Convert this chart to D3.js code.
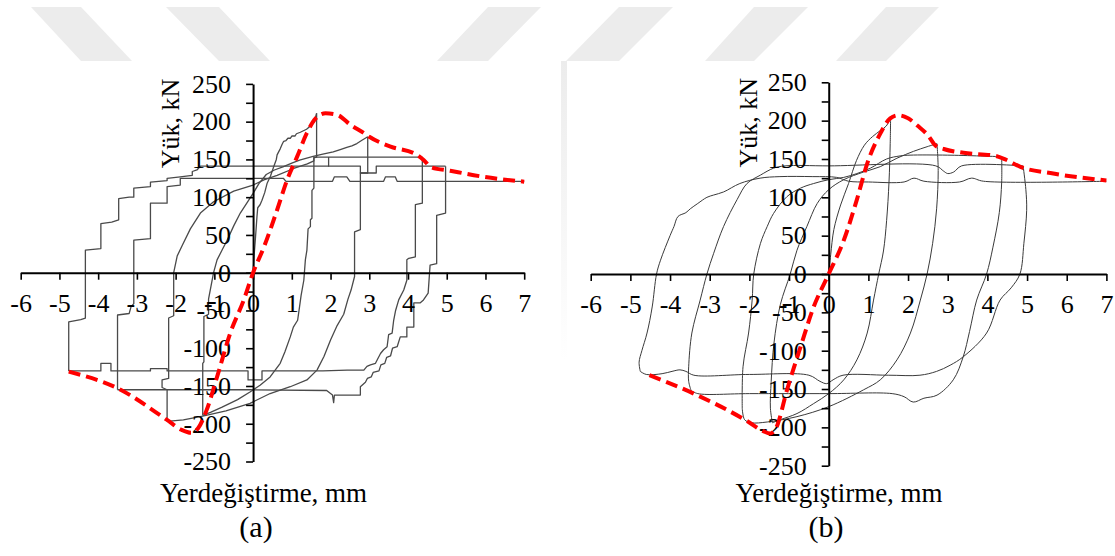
<!DOCTYPE html>
<html>
<head>
<meta charset="utf-8">
<script src="https://cdn.jsdelivr.net/npm/d3@7"></script>
<style>
  body { margin: 0; background: #fff; }
  svg { display: block; }
  text { font-family: "Liberation Serif", "Times New Roman", serif; fill: #000; }
</style>
</head>
<body>
<svg id="chart" width="1115" height="556"></svg>
<script>
// ---- axis ticks ----
const xTickValues = [-6, -5, -4, -3, -2, -1, 0, 1, 2, 3, 4, 5, 6, 7];
const yTickValues = [-250, -225, -200, -175, -150, -125, -100, -75, -50, -25, 0, 25, 50, 75, 100, 125, 150, 175, 200, 225, 250];
const yLabelStep = 50;
const xTitle = "Yerdeğiştirme, mm";
const yTitle = "Yük, kN";

// ---- (a) test loops: [displacement mm, load kN] ----
const aVirgin = [[0,0],[0.03,25],[0.06,45],[0.1,74],[0.12,86],[0.18,90],[0.23,96],[0.3,106],[0.36,118],[0.45,128],[0.53,140],[0.6,150],[0.62,156],[0.7,164],[0.75,170],[0.79,174],[0.85,175],[0.9,178],[0.96,178],[1.0,181],[1.08,181],[1.12,184],[1.22,186],[1.3,188],[1.38,190],[1.45,193],[1.52,196],[1.57,199],[1.64,211]];
const aUnload1 = [[1.64,211],[1.64,153],[1.57,152],[1.57,112],[1.52,109],[1.52,72],[1.48,70],[1.48,61],[1.42,58],[1.39,30],[1.35,17],[1.31,-10],[1.24,-30],[1.2,-45],[1.15,-63],[1.04,-72],[0.96,-85],[0.82,-105],[0.7,-120],[0.44,-138],[0.18,-149],[-0.08,-158],[-0.4,-168],[-0.8,-178],[-1.1,-185],[-1.3,-189]];
const aReload1 = [[-1.3,-189],[-1.3,-120],[-1.27,-118],[-1.27,-58],[-1.15,-55],[-1.15,-35],[-1.02,0],[-0.93,17],[-0.8,30],[-0.67,43],[-0.5,62],[-0.33,79],[-0.15,93],[0,105],[0.15,118],[0.34,130],[0.55,136],[0.77,140],[1.0,145],[1.2,149],[1.55,154],[1.8,157],[2.07,160],[2.25,163],[2.42,166],[2.55,168],[2.68,171],[2.8,175],[2.96,180]];
const aUnload2 = [[2.96,180],[2.96,132],[2.77,132],[2.77,57],[2.62,54],[2.62,-5],[2.53,-23],[2.45,-35],[2.34,-55],[2.17,-70],[2.0,-89],[1.83,-111],[1.65,-129],[1.39,-142],[0.96,-151],[0.44,-160],[-0.08,-173],[-0.7,-183],[-1.3,-190],[-1.8,-195],[-2.22,-197]];
const aReload2 = [[-2.22,-197],[-2.22,-155],[-2.35,-152],[-2.35,-142],[-2.18,-140],[-2.18,-60],[-2.05,-57],[-2.05,0],[-1.96,22],[-1.83,36],[-1.62,58],[-1.36,79],[-1.02,94],[-0.5,108],[0,116],[0.28,123],[0.62,129],[1.05,138],[1.4,144],[1.57,148],[1.57,153],[1.95,153],[1.95,141],[1.95,153],[4.37,153]];
const aUnload3 = [[4.37,153],[4.37,92],[4.19,90],[4.19,21],[4.02,19],[3.97,17],[3.97,-10],[3.89,-23],[3.76,-36],[3.68,-50],[3.63,-63],[3.59,-80],[3.5,-82],[3.46,-98],[3.37,-102],[3.29,-107],[3.2,-116],[3.16,-120],[3.03,-122],[2.94,-124],[2.86,-129],[2.43,-129],[1.8,-130],[0.23,-130],[0.23,-142],[-0.13,-142],[-0.13,-130],[-2.22,-130],[-2.22,-127],[-2.65,-127],[-2.65,-130],[-3.67,-130],[-3.67,-120],[-3.93,-120],[-3.93,-130],[-4.76,-130]];
const aReload3 = [[-4.76,-130],[-4.76,-65],[-4.45,-62],[-4.33,-60],[-4.33,30],[-3.93,32],[-3.93,65],[-3.65,67],[-3.47,70],[-3.47,98],[-3.2,100],[-3.08,100],[-3.08,112],[-2.65,114],[-2.65,120],[-2.22,122],[-2.22,125],[-1.88,127],[-1.57,129],[-1.57,134],[-1.45,136],[-1.36,141],[2.77,141],[2.77,132],[3.18,132],[3.18,141],[4.97,141]];
const aUnload4 = [[4.97,141],[4.97,79],[4.74,76],[4.74,12],[4.57,10],[4.52,-27],[4.4,-36],[4.31,-40],[4.15,-40],[4.15,-72],[3.97,-72],[3.97,-85],[3.8,-85],[3.72,-98],[3.6,-100],[3.55,-110],[3.45,-112],[3.4,-120],[3.3,-122],[3.25,-130],[3.1,-132],[3.05,-138],[2.95,-140],[2.9,-145],[2.77,-151],[2.77,-162],[2.1,-162],[2.08,-172],[2.05,-162],[1.9,-156],[-0.08,-155],[-3.5,-155]];
const aReload4 = [[-3.5,-155],[-3.5,-56],[-3.2,-54],[-3.15,-45],[-3.08,-41],[-3.08,43],[-2.65,45],[-2.65,92],[-2.22,92],[-2.22,114],[-1.88,116],[-1.88,125],[-0.1,125],[0.78,125],[0.85,121],[2.05,121],[2.1,127],[2.42,127],[2.5,121],[3.37,121],[3.42,127],[3.67,127],[3.72,121],[7,121]];
const aEnvelope = [[-4.76,-131],[-3.5,-153],[-2.22,-195],[-1.85,-208],[-1.6,-212],[-1.42,-206],[-1.2,-182],[-0.93,-138],[-0.59,-80],[-0.24,-36],[0,0],[0.28,34],[0.62,83],[0.88,123],[1.14,154],[1.39,185],[1.61,204],[1.87,211],[2.17,209],[2.51,196],[2.86,185],[3.0,180],[3.55,167],[4.23,156],[4.41,149],[4.58,140],[5.09,135],[5.95,127],[7.0,120.5]];

// ---- (b) model loops ----
const bVirgin = [[0,0],[0.05,25],[0.13,58],[0.3,90],[0.5,118],[0.7,148],[0.9,168],[1.1,179],[1.3,187],[1.45,193],[1.56,204]];
const bUnload1 = [[1.56,204],[1.55,170],[1.52,120],[1.46,70],[1.38,30],[1.26,0],[1.13,-34],[0.97,-77],[0.71,-112],[0.38,-138],[0,-156],[-0.38,-169],[-0.8,-182],[-1.22,-190],[-1.42,-194]];
const bReload1 = [[-1.42,-194],[-1.47,-175],[-1.45,-140],[-1.38,-90],[-1.22,-40],[-0.97,0],[-0.8,31],[-0.55,62],[-0.29,92],[0,110],[0.38,123],[0.88,133],[1.3,140],[1.72,151],[2.14,160],[2.48,166],[2.73,170]];
const bUnload2 = [[2.73,170],[2.76,135],[2.72,85],[2.62,40],[2.48,0],[2.31,-34],[2.06,-77],[1.72,-112],[1.3,-138],[0.88,-151],[0,-173],[-0.8,-186],[-1.55,-193],[-1.95,-194],[-2.12,-190],[-2.18,-175]];
const bReload2 = [[-2.18,-175],[-2.16,-121],[-2.02,-77],[-1.93,-34],[-1.89,0],[-1.72,40],[-1.55,62],[-1.39,79],[-1.05,101],[-0.71,112],[-0.38,118],[0,123],[0.38,126],[0.71,131],[1.05,138],[1.46,150],[1.8,154],[2.05,155],[3,155],[4.36,153]];
const bUnload3 = [[4.36,153],[4.36,120],[4.3,80],[4.14,35],[3.98,0],[3.73,-34],[3.55,-75],[3.39,-108],[3.14,-138],[2.73,-158],[2.4,-162],[2.13,-167],[1.9,-160],[1.6,-156],[0,-156],[-2,-156],[-3.3,-156],[-3.47,-152]];
const bReload3 = [[-3.47,-152],[-3.53,-140],[-3.53,-121],[-3.45,-77],[-3.24,-34],[-3.07,0],[-2.9,27],[-2.65,62],[-2.31,97],[-2.06,118],[-1.72,129],[-1.39,138],[-1.1,141],[0,141],[2.7,141],[2.9,134],[3.0,131],[3.15,133],[3.35,141],[4.9,141]];
const bUnload4 = [[4.9,141],[4.97,110],[4.99,83],[4.92,40],[4.82,0],[4.6,-18],[4.32,-34],[3.98,-77],[3.39,-108],[3.06,-119],[2.72,-127],[2.3,-132],[1.5,-132],[0.36,-132],[0.11,-138],[-0.05,-143],[-0.22,-140],[-0.5,-132],[-2,-131],[-3.4,-132],[-3.6,-127],[-3.75,-125],[-3.95,-127],[-4.2,-130],[-4.6,-131],[-4.75,-127]];
const bReload4 = [[-4.75,-127],[-4.78,-115],[-4.71,-100],[-4.58,-77],[-4.45,-43],[-4.34,0],[-4.24,18],[-4.0,50],[-3.9,62],[-3.8,75],[-3.6,80],[-3.49,85],[-3.3,92],[-3.07,100],[-2.9,103],[-2.65,107],[-2.24,118],[-1.73,125],[-1.23,127],[-0.4,127],[0.2,126],[0.5,121],[1.0,120],[1.9,120],[2.15,125],[2.4,121],[3.3,120],[3.6,125],[3.9,121],[7,121]];
const bEnvelope = [[-4.52,-132],[-3.4,-156],[-2.02,-193],[-1.65,-205],[-1.47,-208],[-1.32,-200],[-1.05,-151],[-0.71,-95],[-0.38,-43],[0,0],[0.38,44],[0.71,97],[0.97,144],[1.3,183],[1.55,203],[1.75,207],[2.0,203],[2.25,193],[2.5,181],[2.7,167],[2.9,163],[3.4,158],[4.2,154],[4.47,149],[4.82,140],[5.66,131],[7.0,122]];

const svg = d3.select("#chart");

// faint background emblem bands along the top
const bands = [
  [[31,7],[81,7],[132,61],[81,61]],
  [[166,7],[219,7],[270,61],[219,61]],
  [[488,7],[541,7],[488,61],[437,61]],
  [[619,7],[673,7],[619,61],[566,61]],
  [[754,7],[808,7],[754,61],[705,61]],
  [[886,7],[939,7],[886,61],[836,61]]
];
const defs = svg.append("defs");
const fade = defs.append("linearGradient").attr("id", "fade").attr("x1", 0).attr("y1", 0).attr("x2", 0).attr("y2", 1);
fade.append("stop").attr("offset", "0%").attr("stop-color", "#ececec");
fade.append("stop").attr("offset", "100%").attr("stop-color", "#ffffff");
svg.append("g").selectAll("polygon").data(bands).join("polygon")
  .attr("points", d => d.map(p => p.join(",")).join(" "))
  .attr("fill", "#ececec");
svg.append("rect").attr("x", 561).attr("y", 61).attr("width", 6).attr("height", 300).attr("fill", "url(#fade)");

const panels = [
  { x0: 20.7, x1: 524.2, yTop: 83.9, yBot: 461.5, loops: [aVirgin, aUnload1, aReload1, aUnload2, aReload2, aUnload3, aReload3, aUnload4, aReload4],
    envelope: aEnvelope, smooth: false, stroke: "#4a4a4a", strokeWidth: 1.3,
    yTitleX: 179, xTitleX: 263.5, tag: "(a)", tagX: 256 },
  { x0: 590.7, x1: 1106.4, yTop: 82.3, yBot: 465.7, loops: [bVirgin, bUnload1, bReload1, bUnload2, bReload2, bUnload3, bReload3, bUnload4, bReload4],
    envelope: bEnvelope, smooth: true, stroke: "#3a3a3a", strokeWidth: 1.0,
    yTitleX: 757, xTitleX: 839, tag: "(b)", tagX: 826 }
];

const tickFont = 26;

panels.forEach(p => {
  const x = d3.scaleLinear().domain([-6, 7]).range([p.x0, p.x1]);
  const y = d3.scaleLinear().domain([-250, 250]).range([p.yBot, p.yTop]);
  const g = svg.append("g");

  const loopLine = d3.line().x(d => x(d[0])).y(d => y(d[1]))
    .curve(p.smooth ? d3.curveCatmullRom.alpha(0.5) : d3.curveLinear);
  g.append("g").selectAll("path").data(p.loops).join("path")
    .attr("d", loopLine)
    .attr("fill", "none")
    .attr("stroke", p.stroke)
    .attr("stroke-width", p.strokeWidth)
    .attr("stroke-linejoin", "round");

  // x axis through the origin
  const xAxis = g.append("g").attr("transform", `translate(0,${y(0)})`)
    .call(d3.axisBottom(x).tickValues(xTickValues).tickSize(7).tickSizeOuter(0).tickPadding(14).tickFormat(d => String(d)));
  // y axis through the origin
  const yAxis = g.append("g").attr("transform", `translate(${x(0)},0)`)
    .call(d3.axisLeft(y).tickValues(yTickValues).tickSize(7).tickSizeOuter(0).tickPadding(15)
      .tickFormat(d => (d % yLabelStep === 0 ? String(d) : "")));
  [xAxis, yAxis].forEach(ax => {
    ax.select(".domain").attr("stroke", "#000").attr("stroke-width", 2);
    ax.selectAll(".tick line").attr("stroke", "#000").attr("stroke-width", 1.6);
    ax.selectAll(".tick text").attr("font-size", tickFont)
      .attr("font-family", '"Liberation Serif", "Times New Roman", serif').attr("fill", "#000");
  });

  // peak envelope
  g.append("path")
    .attr("d", d3.line().x(d => x(d[0])).y(d => y(d[1])).curve(d3.curveMonotoneX)(p.envelope))
    .attr("fill", "none")
    .attr("stroke", "#ff0000")
    .attr("stroke-width", 4)
    .attr("stroke-dasharray", "12,6");

  g.append("text")
    .attr("transform", `translate(${p.yTitleX},${(p.yTop + 165) / 2 - 1}) rotate(-90)`)
    .attr("text-anchor", "middle")
    .attr("font-size", 26)
    .text(yTitle);
  g.append("text")
    .attr("x", p.xTitleX).attr("y", 502)
    .attr("text-anchor", "middle")
    .attr("font-size", 27)
    .text(xTitle);
  g.append("text")
    .attr("x", p.tagX).attr("y", 537)
    .attr("text-anchor", "middle")
    .attr("font-size", 30)
    .text(p.tag);
});
</script>
</body>
</html>
